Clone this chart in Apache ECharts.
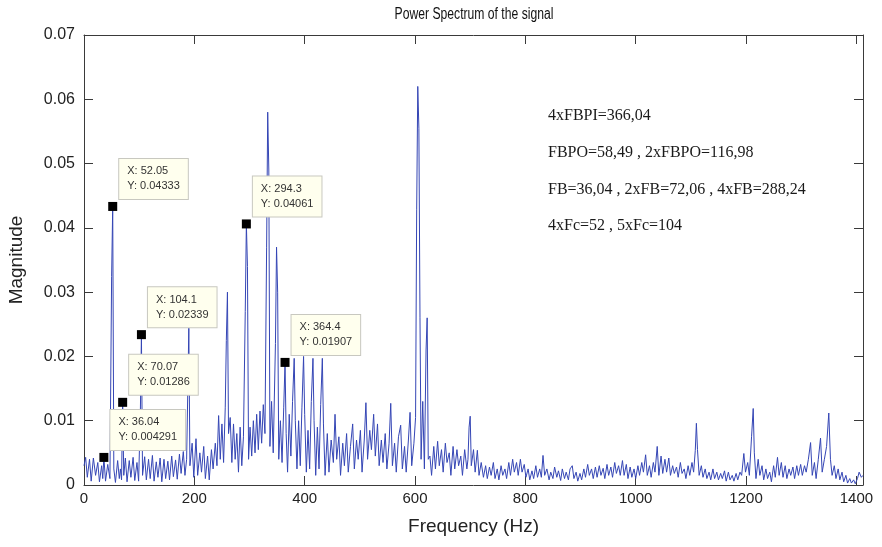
<!DOCTYPE html>
<html>
<head>
<meta charset="utf-8">
<script src="https://cdn.jsdelivr.net/npm/echarts@6/dist/echarts.min.js"></script>
<style>
  html, body { margin: 0; padding: 0; background: #fff; }
  #chart { width: 882px; height: 547px; }
</style>
</head>
<body>
<div id="chart"></div>
<script>
// spectrum (local peaks / dips), Hz
let freq = [
  0, 3, 6, 10, 13, 17, 21, 25, 28, 32, 34, 36.04, 39, 43, 47, 50.05, 52.05, 54.05, 57, 61,
  64, 66, 68.07, 70.07, 72.07, 75, 78, 82, 85, 89, 92, 96, 99, 102.1, 104.1, 106.1, 110, 113, 117, 120,
  124, 127, 131, 134, 138, 141, 145, 148, 152, 155, 159, 162, 166, 169, 173, 176, 180, 183, 186, 188,
  190, 192, 196, 199,
  203, 206, 210, 213, 217, 220, 224, 227, 231, 234, 238, 241, 244, 247, 250, 253, 256, 258, 260, 262,
  265, 268, 271, 274, 277, 280, 283, 286, 289, 292.3, 294.3, 296.3, 298.3,
  301, 304, 307, 310, 313, 316, 319, 322, 325, 328, 331, 333, 335, 337, 340, 343, 347, 349, 351, 353,
  356, 359, 362, 364.4, 366.4, 369, 372, 375, 378, 381, 383, 386, 389, 392, 395, 398, 400, 403, 406, 409,
  412, 415, 417, 420, 423, 426, 429, 432, 434, 437,
  441, 444, 448, 452, 455, 458, 462, 465, 469, 472, 476, 479, 483, 487, 490, 494, 497, 501, 504, 508,
  511, 514, 518, 521, 525, 528, 532, 535, 539, 542, 546, 549, 553, 556, 559, 563, 566, 570, 574, 577,
  581, 584, 588, 591, 594, 598, 601, 603, 605, 607, 609, 611, 614, 617, 620, 622, 624,
  627, 630, 634, 637, 641, 644, 648, 651, 655, 658, 662, 665, 669, 672, 676, 679, 683, 686, 690, 694,
  696, 698, 700, 702, 706, 709, 713, 716, 720, 724, 728, 731, 735, 738, 742, 745, 749, 752, 756, 759,
  763, 766, 770, 773, 777, 780, 784, 787, 791, 794, 798,
  801, 805, 808, 812, 815, 819, 822, 826, 829, 832, 835, 839, 843, 846, 850, 853, 857, 860, 864, 867,
  871, 874, 878, 881, 885, 888, 892, 895, 899, 902, 906, 909, 913, 916, 920, 923, 927, 930, 934, 937,
  941, 944, 948, 951, 955, 958, 962, 965, 969, 972, 976, 979, 983, 986, 990, 993, 997,
  1000, 1004, 1007, 1011, 1014, 1018, 1021, 1025, 1028, 1032, 1035, 1039, 1042, 1046, 1049, 1053, 1056, 1060, 1063, 1067,
  1070, 1074, 1077, 1081, 1084, 1088, 1091, 1095, 1098, 1102, 1105, 1108, 1110, 1112, 1115, 1119, 1122, 1126, 1129, 1133,
  1136, 1140, 1143, 1147, 1150, 1154, 1157, 1161, 1164, 1168, 1171, 1175, 1178, 1182, 1185, 1189, 1192, 1196, 1199,
  1203, 1206, 1210, 1213, 1215, 1218, 1222, 1225, 1229, 1232, 1236, 1239, 1243, 1246, 1250, 1253, 1257, 1260, 1264, 1267,
  1271, 1274, 1278, 1281, 1285, 1288, 1292, 1295, 1299, 1302, 1306, 1309, 1313, 1317, 1320, 1324, 1327, 1331, 1335, 1338,
  1342, 1346, 1350, 1353, 1356, 1360, 1363, 1367, 1370, 1374, 1377, 1381, 1384, 1388, 1391, 1395, 1398, 1402, 1405, 1409,
  1412
];
let mag = [
  .0030, .0043, .0012, .0040, .0006, .0042, .0015, .0035, .0005, .0030, .0010, .004291, .0006, .0032, .0010, .0324, .04333, .0025, .0004, .0038,
  .0010, .0025, .0008, .01286, .0015, .0042, .0005, .0038, .0012, .0043, .0007, .0035, .0006, .0110, .02339, .0015, .0044, .0008, .0040, .0010,
  .0046, .0006, .0036, .0012, .0042, .0005, .0040, .0010, .0037, .0008, .0045, .0013, .0039, .0009, .0048, .0018, .0052, .0015, .0040, .0140,
  .0244, .0030, .0065, .0012,
  .0072, .0015, .0050, .0020, .0060, .0010, .0045, .0008, .0055, .0025, .0065, .0030, .0108, .0040, .0095, .0035, .0120, .0225, .0300, .0080,
  .0105, .0035, .0095, .0040, .0080, .0020, .0090, .0030, .0075, .0270, .04061, .0340, .0040,
  .0090, .0045, .0100, .0050, .0110, .0055, .0115, .0065, .0125, .0080, .0370, .0580, .0490, .0060, .0130, .0050, .0220, .0370, .0300, .0040,
  .0100, .0035, .0120, .01907, .0080, .0020, .0110, .0045, .0130, .0197, .0100, .0025, .0100, .0030, .0120, .0200, .0110, .0020, .0085, .0025,
  .0130, .0197, .0100, .0015, .0090, .0025, .0125, .0197, .0095, .0015,
  .0080, .0020, .0070, .0035, .0110, .0040, .0075, .0015, .0065, .0030, .0080, .0020, .0060, .0095, .0025, .0070, .0040, .0085, .0020, .0070,
  .0128, .0040, .0085, .0055, .0110, .0045, .0095, .0030, .0070, .0035, .0080, .0025, .0065, .0127, .0030, .0065, .0020, .0075, .0093, .0025,
  .0060, .0020, .0070, .0113, .0030, .0065, .0105, .0428, .0620, .0555, .0260, .0040, .0130, .0025, .0210, .0260, .0040,
  .0045, .0015, .0060, .0025, .0068, .0030, .0055, .0020, .0065, .0035, .0050, .0015, .0060, .0025, .0055, .0030, .0045, .0015, .0055, .0025,
  .0040, .0090, .0107, .0030, .0055, .0020, .0054, .0015, .0035, .0012, .0030, .0010, .0028, .0015, .0035, .0010, .0025, .0008, .0030, .0015,
  .0025, .0010, .0035, .0015, .0040, .0020, .0035, .0015, .0040, .0020, .0032,
  .0012, .0025, .0008, .0022, .0010, .0030, .0012, .0025, .0012, .0046, .0015, .0025, .0008, .0020, .0010, .0028, .0012, .0022, .0007, .0025,
  .0010, .0020, .0008, .0025, .0030, .0010, .0020, .0006, .0018, .0008, .0025, .0012, .0032, .0015, .0025, .0010, .0028, .0012, .0030, .0015,
  .0026, .0010, .0032, .0015, .0028, .0012, .0035, .0018, .0030, .0015, .0038, .0015, .0032, .0010, .0028, .0012, .0025,
  .0010, .0030, .0015, .0035, .0020, .0047, .0015, .0030, .0012, .0035, .0020, .0060, .0015, .0045, .0018, .0040, .0020, .0042, .0015, .0030,
  .0018, .0028, .0012, .0035, .0018, .0025, .0010, .0030, .0015, .0035, .0020, .0054, .0096, .0055, .0015, .0030, .0012, .0025, .0010, .0020,
  .0008, .0025, .0010, .0020, .0008, .0018, .0010, .0022, .0006, .0020, .0008, .0015, .0006, .0018, .0008, .0020, .0015, .0049, .0020,
  .0035, .0015, .0075, .0119, .0050, .0010, .0040, .0015, .0030, .0008, .0025, .0010, .0020, .0005, .0030, .0012, .0043, .0015, .0035, .0012,
  .0030, .0010, .0025, .0015, .0028, .0010, .0030, .0015, .0032, .0015, .0030, .0020, .0040, .0066, .0015, .0035, .0010, .0040, .0073, .0020,
  .0040, .0060, .0112, .0040, .0015, .0030, .0010, .0025, .0008, .0020, .0005, .0015, .0003, .0010, .0003, .0008, .0002, .0010, .0020, .0012,
  .0015
];

// data tips
let tipX = [36.04, 52.05, 70.07, 104.1, 294.3, 364.4];
let tipY = [0.004291, 0.04333, 0.01286, 0.02339, 0.04061, 0.01907];

let notes = [
  '4xFBPI=366,04',
  'FBPO=58,49 , 2xFBPO=116,98',
  'FB=36,04 , 2xFB=72,06 , 4xFB=288,24',
  '4xFc=52 , 5xFc=104'
];

let myChart = echarts.init(document.getElementById('chart'));

let axisColor = '#3a3a3a';
let sans = "'Liberation Sans', Arial, sans-serif";
let xBase = {
  type: 'value', min: 0, max: 1412, interval: 200,
  axisLine: { onZero: false, lineStyle: { color: axisColor, width: 1 } },
  axisTick: { inside: true, length: 9, lineStyle: { color: axisColor } },
  splitLine: { show: false }
};
let yBase = {
  type: 'value', min: 0, max: 0.07, interval: 0.01,
  axisLine: { onZero: false, lineStyle: { color: axisColor, width: 1 } },
  axisTick: { inside: true, length: 9, lineStyle: { color: axisColor } },
  splitLine: { show: false }
};

// title drawn as a text element so it can be squeezed like the original
let titleText = {
  type: 'text', x: 474, y: 7, scaleX: 0.76,
  style: { text: 'Power Spectrum of the signal', textAlign: 'center', fontFamily: sans, fontSize: 16, fill: '#111' }
};

let option = {
  animation: false,
  backgroundColor: '#fff',
  grid: { left: 84, right: 19, top: 35, bottom: 62, containLabel: false, outerBoundsMode: 'none' },
  xAxis: [
    Object.assign({}, xBase, {
      position: 'bottom',
      name: 'Frequency (Hz)', nameLocation: 'middle', nameGap: 32,
      nameTextStyle: { fontFamily: sans, fontSize: 19, color: '#222' },
      axisLabel: { fontFamily: sans, fontSize: 15, color: '#222', margin: 6, showMaxLabel: false,
        formatter: v => String(v) }
    }),
    Object.assign({}, xBase, { position: 'top', axisLabel: { show: false } })
  ],
  yAxis: [
    Object.assign({}, yBase, {
      position: 'left',
      name: 'Magnitude', nameLocation: 'middle', nameGap: 58, nameRotate: 90,
      nameTextStyle: { fontFamily: sans, fontSize: 19, color: '#222' },
      axisLabel: { fontFamily: sans, fontSize: 16, color: '#222', margin: 9 }
    }),
    Object.assign({}, yBase, { position: 'right', axisLabel: { show: false } })
  ],
  graphic: [titleText].concat(notes.map((t, i) => ({
    type: 'text', left: 548, top: 108 + i * 36.7,
    style: { text: t, fontFamily: "'Liberation Serif', serif", fontSize: 16, fill: '#1a1a1a' }
  }))),
  series: [
    {
      type: 'line',
      data: freq.map((f, i) => [f, mag[i]]),
      symbol: 'none',
      lineStyle: { color: '#3546b5', width: 1 },
      z: 2
    },
    {
      type: 'scatter',
      data: tipX.map((x, i) => [x, tipY[i]]),
      symbol: 'rect',
      symbolSize: 9,
      itemStyle: { color: '#000', opacity: 1 },
      label: {
        show: true,
        position: [11, -43],
        formatter: p => 'X: ' + p.value[0] + '\nY: ' + p.value[1],
        fontFamily: sans, fontSize: 11, lineHeight: 15, color: '#333',
        backgroundColor: '#ffffee', borderColor: '#c8c8c0', borderWidth: 1,
        padding: [5, 8, 5, 8]
      },
      z: 5
    }
  ]
};
myChart.setOption(option);
</script>
</body>
</html>
